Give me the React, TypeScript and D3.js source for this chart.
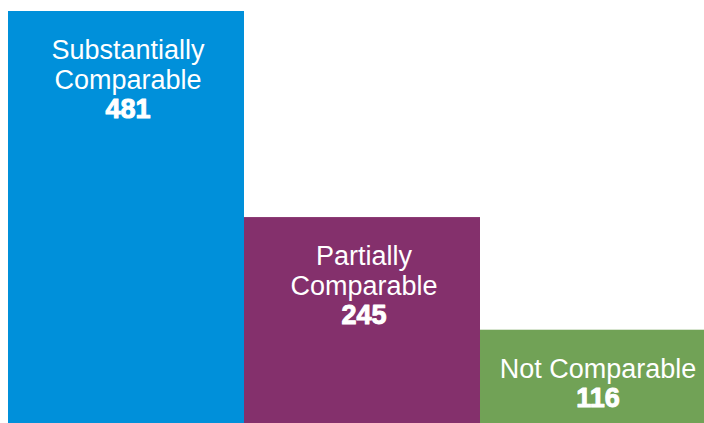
import { useEffect, useRef } from 'react'
import * as d3 from 'd3'

const categories = ['Substantially Comparable', 'Partially Comparable', 'Not Comparable']
const labelLines = [['Substantially', 'Comparable'], ['Partially', 'Comparable'], ['Not Comparable']]
const values = [481, 245, 116]
const colors = ['#0090da', '#84306c', '#71a256']

export default function App() {
  const svgRef = useRef<SVGSVGElement>(null)

  useEffect(() => {
    if (!svgRef.current) return
    const svg = d3.select(svgRef.current)
    svg.selectAll('*').remove()

    const width = 704
    const height = 423

    svg.attr('width', width).attr('height', height)

    // bars are 236px wide; the last one runs past the right edge
    const x = d3.scaleBand<string>()
      .domain(categories)
      .range([8, 716])
      .padding(0)

    // baseline sits just below the visible area
    const y = d3.scaleLinear()
      .domain([0, d3.max(values) || 0])
      .range([431, 11])

    const g = svg.append('g')

    g.selectAll('rect')
      .data(categories)
      .enter().append('rect')
      .attr('x', d => x(d) || 0)
      .attr('y', (d, i) => y(values[i]))
      .attr('width', x.bandwidth())
      .attr('height', (d, i) => y(0) - y(values[i]))
      .attr('fill', (d, i) => colors[i])

    categories.forEach((c, i) => {
      const cx = (x(c) || 0) + x.bandwidth() / 2 + (i === 2 ? 0 : 2)
      const top = y(values[i])
      const lines = labelLines[i]

      lines.forEach((line, j) => {
        g.append('text')
          .attr('x', cx)
          .attr('y', top + 48 + j * 30)
          .attr('text-anchor', 'middle')
          .style('font-family', '"Liberation Sans", Arial, sans-serif')
          .style('font-size', '27px')
          .style('fill', '#fff')
          .text(line)
      })

      g.append('text')
        .attr('x', cx)
        .attr('y', top + 48 + lines.length * 30 - 1)
        .attr('text-anchor', 'middle')
        .style('font-family', '"Liberation Sans", Arial, sans-serif')
        .style('font-size', '27px')
        .style('font-weight', 'bold')
        .style('fill', '#fff')
        .style('stroke', '#fff')
        .style('stroke-width', 1)
        .style('stroke-linejoin', 'round')
        .text(values[i])
    })
  }, [])

  return (
    <svg
      ref={svgRef}
      style={{ position: 'absolute', left: 0, top: 0, overflow: 'hidden', display: 'block' }}
    />
  )
}
